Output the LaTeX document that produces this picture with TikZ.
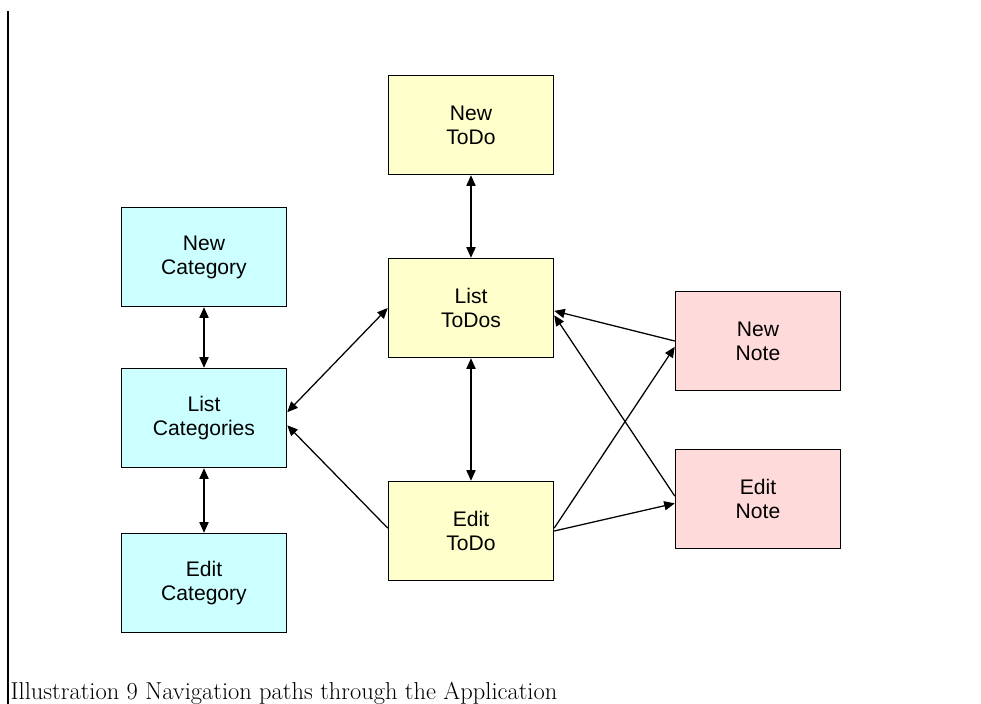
\documentclass[tikz,border=0pt]{standalone}
\usepackage{fontspec}
\usetikzlibrary{arrows.meta}
\newfontfamily\boxfont{Liberation Sans}
\definecolor{todo}{HTML}{FFFFCC}
\definecolor{cat}{HTML}{CCFFFF}
\definecolor{note}{HTML}{FFDADA}

\begin{document}
\begin{tikzpicture}
  [x=0.025cm,y=-0.025cm,>={Triangle[length=7.5pt,width=6.5pt]},
   every node/.style={rectangle, draw, line width=1pt, inner sep=0pt,
     minimum width=4.125cm, minimum height=2.475cm, align=center,
     font=\boxfont\fontsize{15}{17}\selectfont}]
  \useasboundingbox (0,0) rectangle (981,704);
  \draw[line width=1.4pt] (8,11) -- (8,704);

  \node[fill=todo] (nt) at (471,125) {New\\ToDo};
  \node[fill=todo] (lt) at (471,308) {List\\ToDos};
  \node[fill=todo] (et) at (471,531) {Edit\\ToDo};
  \node[fill=cat]  (nc) at (204,257) {New\\Category};
  \node[fill=cat]  (lc) at (204,418) {List\\Categories};
  \node[fill=cat]  (ec) at (204,583) {Edit\\Category};
  \node[fill=note] (nn) at (758,341) {New\\Note};
  \node[fill=note] (en) at (758,499) {Edit\\Note};

  \foreach \from/\to in {nt/lt,lt/et,nc/lc,lc/ec,lc.4/lt.west}
    \draw[<->,line width=0.9pt] (\from) -- (\to);
  \foreach \from/\to in {et.178/lc.-5,nn.west/lt.-2,en.178/lt.-5,et.2/nn.184,et.east/en.183}
    \draw[->,line width=0.9pt] (\from) -- (\to);

  \node[draw=none, minimum width=0pt, minimum height=0pt, anchor=base west,
    font=\rmfamily\fontsize{17.4}{19}\selectfont] (cap) at (10,699)
    {Illustration 9 Navigation paths through the Application};
\end{tikzpicture}
\end{document}
